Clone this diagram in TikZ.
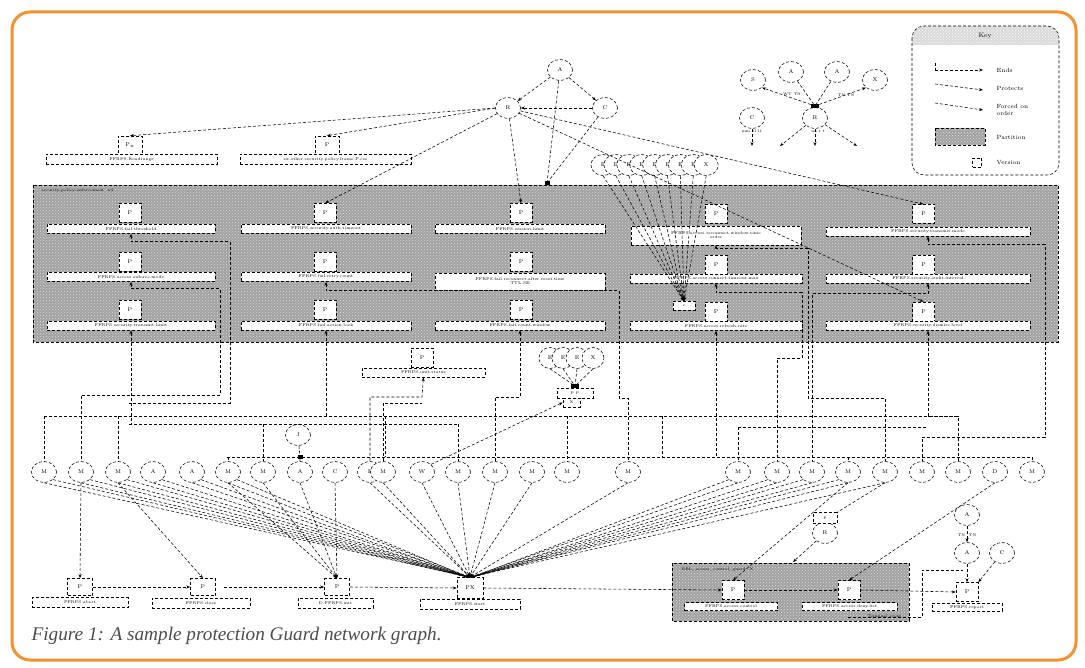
\documentclass[tikz,border=0pt]{standalone}
\usepackage{graphicx}
\usepackage{fontspec}
\newfontfamily\capfont{Liberation Serif}
\usetikzlibrary{shapes.geometric,arrows.meta,patterns}
\definecolor{ora}{RGB}{242,146,48}
\definecolor{regiongray}{RGB}{162,162,162}
\begin{document}
\begin{tikzpicture}[x=1pt,y=-1pt,line width=0.55pt,
 circ/.style={ellipse,draw,densely dashed,fill=white,minimum width=25pt,minimum height=21pt,inner sep=0pt,font=\fontsize{5.5}{5.5}\selectfont},
 pbox/.style={rectangle,draw,densely dashed,fill=white,minimum width=22pt,minimum height=19pt,inner sep=0pt,font=\fontsize{5.5}{5.5}\selectfont},
 lbar/.style={rectangle,draw,densely dashed,fill=white,minimum height=9pt,inner sep=0pt,align=center,font=\fontsize{4}{4.2}\selectfont},
 conn/.style={densely dashed,-{Stealth[length=4pt,width=3pt]}},
 into/.style={densely dashed,{Stealth[length=4pt,width=3pt]}-},
 dsh/.style={densely dashed},
 jsq/.style={rectangle,fill=black,minimum width=5pt,minimum height=4pt,inner sep=0pt},
 tinyt/.style={font=\fontsize{3.8}{4}\selectfont},
 keyt/.style={font=\fontsize{6}{6.5}\selectfont,anchor=west,align=left},
]
\useasboundingbox (0,0) rectangle (1085,668);
\fill[white] (0,0) rectangle (1085,668);
\draw[ora,line width=3pt,rounded corners=18pt] (12,12) rectangle (1076,660);

% ---------- partitions ----------
\fill[regiongray] (33,185) rectangle (1058,342);
\fill[pattern=crosshatch dots,pattern color=gray!30] (33,185) rectangle (1058,342);
\draw[dsh] (33,185) rectangle (1058,342);
\node[tinyt,anchor=west] (reg1) at (38,191) {security-policy-enforcement\quad x4};

\fill[regiongray] (672,563) rectangle (909,621);
\fill[pattern=crosshatch dots,pattern color=gray!30] (672,563) rectangle (909,621);
\draw[dsh] (672,563) rectangle (909,621);
\node[tinyt,anchor=west] (reg2) at (678,570) {RBL\_access\_control\_guard\quad X};

% ---------- key ----------
\begin{scope}
\clip[rounded corners=12pt] (912,26) rectangle (1059,175);
\fill[gray!30] (912,26) rectangle (1059,45);
\fill[pattern=crosshatch dots,pattern color=white] (912,26) rectangle (1059,45);
\end{scope}
\draw[dsh,rounded corners=12pt] (912,26) rectangle (1059,175);
\node[font=\fontsize{6.5}{7}\selectfont] (keytitle) at (985,36) {Key};
\coordinate (k1a) at (935,70); \coordinate (k1b) at (983,70);
\draw[dsh] (935,63) -- (k1a); \draw[conn] (k1a) -- (k1b);
\node[keyt] (k1t) at (993,70) {Ends};
\coordinate (k2a) at (935,84); \coordinate (k2b) at (983,90);
\draw[conn] (k2a) -- (k2b);
\node[keyt] (k2t) at (993,88) {Protects};
\coordinate (k3a) at (935,103); \coordinate (k3b) at (983,110);
\draw[conn] (k3a) -- (k3b);
\node[keyt] (k3t) at (993,110) {Forced on\\order};
\fill[regiongray] (935,128) rectangle (985,145);
\fill[pattern=crosshatch dots,pattern color=gray!30] (935,128) rectangle (985,145);
\draw[dsh] (935,128) rectangle (985,145);
\node[keyt] (k4t) at (993,137) {Partition};
\node[draw,densely dashed,minimum size=9pt,inner sep=0pt] (k5) at (977,163) {};
\node[keyt] (k5t) at (993,163) {Version};

% key example graph
\node[circ] (kS) at (753,80) {S};
\node[circ] (kA1) at (791,72) {A};
\node[circ] (kA2) at (837,72) {A};
\node[circ] (kX) at (875,80) {X};
\node[circ] (kC) at (752,118) {C};
\node[circ] (kR) at (815,118) {R};
\node[jsq,minimum width=8pt] (kj) at (815,106) {};
\draw[conn] (kj) -- (kS.south east);
\draw[conn] (kj) -- (kX.south west);
\draw[dsh] (kA1) -- (kj); \draw[dsh] (kA2) -- (kj);
\node[tinyt] (kl1) at (792,94) {WT TN};
\node[tinyt] (kl2) at (846,95) {TN TN};
\node[tinyt] (kl3) at (752,131) {mm 1111};
\node[tinyt] (kl4) at (818,131) {no t t};
\coordinate (ko1) at (780,146); \coordinate (ko2) at (815,146);
\coordinate (ko3) at (857,146); \coordinate (ko4) at (752,146);
\draw[conn] (kR) -- (ko1); \draw[conn] (kR) -- (ko2);
\draw[conn] (kR) -- (ko3); \draw[conn] (kC) -- (ko4);

% ---------- top ----------
\node[circ] (A) at (560,70) {A};
\node[circ] (R) at (508,108) {R};
\node[circ] (C) at (605,108) {C};
\node[jsq] (J0) at (547,183) {};
\draw[conn] (A) -- (R); \draw[conn] (A) -- (C); \draw[conn] (C) -- (R);
\draw[dsh] (A) -- (J0); \draw[dsh] (C) -- (J0);

\node[pbox,minimum width=24pt,minimum height=18pt] (tp1) at (130,145) {P$_u$};
\node[lbar,minimum width=171pt,minimum height=10pt] (tl1) at (131.5,159.5) {FFRPS.Roadrange};
\node[pbox,minimum width=24pt,minimum height=18pt] (tp2) at (327,145) {P};
\node[lbar,minimum width=171pt,minimum height=10pt] (tl2) at (325.5,159.5) {ex.other.security.policy.frame.P.cee};

% ---------- partition boxes ----------
\node[pbox] (g11) at (130,213) {P};
\node[lbar,minimum width=168pt] (l11) at (131,229) {FFRPS.fail.threshold};
\node[pbox] (g12) at (130,262) {P};
\node[lbar,minimum width=168pt] (l12) at (131,277) {FFRPS.access.enforce.mode};
\node[pbox] (g13) at (130,310) {P};
\node[lbar,minimum width=168pt] (l13) at (131,325.5) {FFRPS.security.transmit.limit};

\node[pbox] (g21) at (325,213) {P};
\node[lbar,minimum width=170pt] (l21) at (326,229) {FFRPS.security.auth.timeout};
\node[pbox] (g22) at (325,262) {P};
\node[lbar,minimum width=170pt] (l22) at (326,277) {FFRPS.fail.retry.count};
\node[pbox] (g23) at (325,310) {P};
\node[lbar,minimum width=170pt] (l23) at (326,325.5) {FFRPS.fail.action.lock};

\node[pbox] (g31) at (521,213) {P};
\node[lbar,minimum width=170pt] (l31) at (520,229) {FFRPS.session.limit};
\node[pbox] (g32) at (521,262) {P};
\node[lbar,minimum width=170pt,minimum height=17pt] (l32) at (520,281.5) {FFRPS.fail.reconnect.after.reset.time\\TTL.SE};
\node[pbox] (g33) at (521,310) {P};
\node[lbar,minimum width=170pt] (l33) at (520,325.5) {FFRPS.fail.count.window};

\node[pbox] (g41) at (716,214) {P};
\node[lbar,minimum width=170pt,minimum height=19pt] (l41) at (716,235.5) {FFRPS.access.reconnect.window.time\\order};
\node[pbox] (g42) at (716,264.5) {P};
\node[lbar,minimum width=172pt] (l42) at (716,278.5) {FFRPS.access.connect.timeout.max};
\node[pbox] (g43) at (716,312) {P};
\node[lbar,minimum width=172pt] (l43) at (716,326) {FFRPS.access.refresh.rate};

\node[pbox] (g51) at (923.5,214) {P};
\node[lbar,minimum width=204pt] (l51) at (928,231.5) {FFRPS.security.transmit.mode};
\node[pbox] (g52) at (923.5,264.5) {P};
\node[lbar,minimum width=204pt] (l52) at (928,278.5) {FFRPS.security.audit.interval};
\node[pbox] (g53) at (923.5,311.5) {P};
\node[lbar,minimum width=204pt] (l53) at (928,326) {FFRPS.security.dismiss.level};

% fan of nine
\foreach \i/\l in {1/E,2/E,3/E,4/E,5/E,6/E,7/E,8/E,9/X}
  \node[circ,minimum width=24pt] (f\i) at ({603+12.9*(\i-1)},165) {\l};
\node[rectangle,draw,densely dashed,fill=white,minimum width=22pt,minimum height=9pt,inner sep=0pt,tinyt] (fb) at (684,306) {c};
\foreach \i in {1,...,9} \draw[conn] (f\i.south) -- (fb.north);

% R connectors
\draw[conn] (R.west) -- (tp1.north);
\draw[conn] (R.west) -- (tp2.north);
\draw[conn] (R) -- (g21.north);
\draw[conn] (R) -- (g31.north);
\draw[conn] (R) -- (g51.north);
\draw[conn] (R) -- (g53.north);

% ---------- middle ----------
\node[pbox] (gp) at (422,358) {P};
\node[lbar,minimum width=123pt] (gl) at (423.5,372.5) {FFRPS.unit.status};
\foreach \i/\x/\l in {1/550/E,2/563/E,3/577/E,4/593/X}
  \node[circ,minimum width=22pt] (e\i) at (\x,358) {\l};
\node[rectangle,draw,densely dashed,fill=white,minimum width=36pt,minimum height=10pt,inner sep=0pt,tinyt] (eb) at (575,393) {P P};
\node[rectangle,draw,densely dashed,fill=white,minimum width=17pt,minimum height=9pt,inner sep=0pt,tinyt] (ec) at (571.5,402.5) {X};
\node[jsq,minimum width=8pt] (ej) at (575,386) {};
\foreach \i in {1,...,4} \draw[dsh] (e\i.south) -- (ej);

\node[circ] (J) at (298,435) {J};

% ---------- bottom circles ----------
\foreach \x/\l [count=\i] in {44/M,81/M,118/M,153/A,192/A,228/M,263/M,300/A,335/C,370/E,383/M,422/W,458/M,495/M,532/M,567/M,628/M,738/M,777/M,812/M,848/M,885/M,922/M,958/M,995/D,1032/M}
  \node[circ] (m\i) at (\x,472) {\l};

% ---------- dashed network ----------
\draw[dsh] (44,416) -- (958,416);
\draw[dsh] (129,424) -- (458,424);
\draw[dsh] (738,427) -- (927,427);
\draw[dsh] (227,457) -- (1032,457);
\draw[into] (l11.south) -- ++(0,8) -| (230,403) -- (129,403);
\draw[into] (l12.south) -- ++(0,7) -| (220,395) -| (m2.north);
\draw[into] (l13.south) -- (131,424);
\draw[dsh] (458,424) -- (m13.north);
\draw[into] (l22.south) -- ++(0,9) -| (619,398) -| (m17.north);
\draw[into] (l23.south) -- (326,416);
\draw[into] (l33.south) -- (520,397) -| (m14.north);
\draw[into] (gl.south) -- (422,397) -| (m10.north);
\draw[dsh] (m11.north) |- (422,403);
\draw[into] (l41.south) -- ++(0,3) -| (808,398) -| (m22.north);
\draw[into] (l42.south) -- ++(0,9) -| (802,358) -| (m19.north);
\draw[into] (l43.south) -- (716,457);
\draw[into] (l51.south) -- ++(0,8) -| (1045,437) -| (m23.north);
\draw[into] (l52.south) -- ++(0,10) -| (m20.north);
\draw[into] (l53.south) -- (928,416) -| (m24.north);
\draw[dsh] (44,416) -- (m1.north);
\draw[dsh] (118,416) -- (m3.north);
\draw[dsh] (228,457) -- (m6.north);
\draw[dsh] (263,424) -- (m7.north);
\node[jsq] (jj) at (300,457) {};
\draw[dsh] (J) -- (jj) -- (m8.north);
\draw[dsh] (567,416) -- (m16.north);
\draw[dsh] (738,427) -- (m18.north);
\draw[dsh] (848,457) -- (m21.north);
\draw[dsh] (1032,457) -- (m26.north);
\draw[dsh] (385,416) -- (385,457);
\draw[dsh] (662,416) -- (662,457);
\draw[conn] (m12.north east) -- (ec.west);

% ---------- bottom boxes ----------
\node[pbox,minimum width=25pt,minimum height=17pt] (b1) at (80,587) {P};
\node[lbar,minimum width=96pt,minimum height=10pt] (bl1) at (80,602.5) {FFRPS.abort};
\node[pbox,minimum width=25pt,minimum height=17pt] (b2) at (203,587) {P};
\node[lbar,minimum width=98pt,minimum height=10pt] (bl2) at (201,603) {FFRPS.close};
\node[pbox,minimum width=25pt,minimum height=17pt] (b3) at (337,587) {P};
\node[lbar,minimum width=75pt,minimum height=10pt] (bl3) at (335.5,603) {D.FFRPS.init};
\node[pbox,minimum width=26pt,minimum height=21pt] (b4) at (470,588) {P\\[-1pt]X};
\node[lbar,minimum width=100pt,minimum height=10pt] (bl4) at (470,604) {FFRPS.start};

\node[pbox] (p6) at (733,590) {P};
\node[lbar,minimum width=93pt,minimum height=8pt] (pl6) at (731,606.5) {FFRPS.access.control};
\node[pbox] (p7) at (849,590) {P};
\node[lbar,minimum width=95pt,minimum height=8pt] (pl7) at (849.5,606.5) {FFRPS.access.deny.list};
\node[pbox] (p8) at (967,592) {P};
\node[lbar,minimum width=70pt,minimum height=8pt] (pl8) at (967,607) {FFRPS.report};

\node[circ] (rA1) at (967,515) {A};
\node[circ] (rA2) at (967,553) {A};
\node[circ] (rC) at (1002,553) {C};
\node[tinyt] (rtn) at (967,535) {TN\quad TN};
\node[circ] (rR) at (825,533) {R};
\node[rectangle,draw,densely dashed,fill=white,minimum width=24pt,minimum height=11pt,inner sep=0pt,tinyt] (rbx) at (825,518) {P};

% chain
\draw[conn] (b1.east) -- (b2.west);
\draw[conn] ([xshift=8pt]b2.east) -- (b3.west);
\draw[conn] (b3.east) -- (b4.west);
\draw[conn] (b4.east) -- (p6.west);
\draw[conn] (p6.east) -- (p7.west);
\draw[conn] (p7.east) -- (p8.west);
\draw[dsh] (848,617) -- (922,617) -- (922,570) -- (963,570);
\node[tinyt,anchor=east] (tev) at (905,616) {Terminal event};

% circles to bottom boxes
\draw[conn] (m2.south) -- (b1.north);
\draw[conn] (m3.south) -- (b2.north);
\foreach \i in {6,7,8,9} \draw[conn] (m\i.south) -- (b3.north);
\foreach \i in {1,...,6} {
  \draw[conn] (m\i.south) -- (b4.north);
  \draw[dsh] (m\i.south east) -- ([xshift=-2pt]b4.north);
}
\foreach \i in {10,11,12,13,14,15,17,22} \draw[conn] (m\i.south) -- (b4.north);
\foreach \i in {18,19,20,21} {
  \draw[conn] (m\i.south) -- (b4.north);
  \draw[dsh] (m\i.south west) -- ([xshift=2pt]b4.north);
}
\draw[conn] (m21.south) -- (p6.north);
\draw[dsh] (m22.south) -- (rbx.north east);
\draw[conn] (m25.south) -- (p7.north);
\coordinate (r2top) at (793,562);
\draw[conn] (rR) -- (r2top);
\draw[conn] (rA1) -- (rA2);
\draw[conn] (rA2) -- (p8.north);
\draw[conn] (rC) -- (p8.north east);

% caption
\node[anchor=west,text=black!70] (cap) at (28,636) {\resizebox{410pt}{!}{\capfont\itshape Figure 1: A sample protection Guard network graph.}};
\end{tikzpicture}
\end{document}
